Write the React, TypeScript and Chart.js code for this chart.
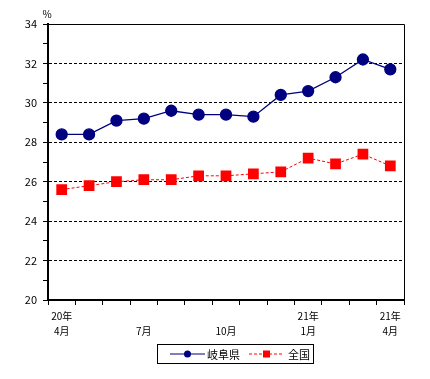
import React, { useEffect, useRef } from "react";
import { Chart, registerables } from "chart.js";

Chart.register(...registerables);

const categories = ["2008-04", "2008-05", "2008-06", "2008-07", "2008-08", "2008-09", "2008-10", "2008-11", "2008-12", "2009-01", "2009-02", "2009-03", "2009-04"];
const xTickLabels: (string | string[])[] = [["20年", "4月"], "", "", ["", "7月"], "", "", ["", "10月"], "", "", ["21年", "1月"], "", "", ["21年", "4月"]];
const gifuValues = [28.4, 28.4, 29.1, 29.2, 29.6, 29.4, 29.4, 29.3, 30.4, 30.6, 31.3, 32.2, 31.7];
const zenkokuValues = [25.6, 25.8, 26.0, 26.1, 26.1, 26.3, 26.3, 26.4, 26.5, 27.2, 26.9, 27.4, 26.8];
const seriesNames = ["岐阜県", "全国"];
const yUnit = "%";

const FONT = "'Noto Sans CJK JP', 'DejaVu Sans', sans-serif";

const framePlugin = {
  id: "frame",
  afterDraw(chart: any) {
    const { ctx, chartArea } = chart;
    const { left, right, top, bottom } = chartArea;
    ctx.save();
    ctx.strokeStyle = "#000";
    ctx.lineWidth = 1;
    ctx.setLineDash([]);
    ctx.beginPath();
    ctx.moveTo(left, Math.round(top) + 0.5);
    ctx.lineTo(Math.round(right) + 0.5, Math.round(top) + 0.5);
    ctx.lineTo(Math.round(right) + 0.5, bottom);
    ctx.stroke();
    // unit label
    ctx.fillStyle = "#000";
    ctx.font = `10px ${FONT}`;
    ctx.textAlign = "center";
    ctx.textBaseline = "middle";
    ctx.fillText(yUnit, left - 1, top - 10);

    // legend
    const ds = chart.data.datasets;
    const bx = 157.5, by = 344.5, bw = 156, bh = 19;
    ctx.strokeStyle = "#000";
    ctx.lineWidth = 1;
    ctx.strokeRect(bx, by, bw, bh);
    const cy = by + bh / 2;
    ctx.font = `11px ${FONT}`;
    ctx.textAlign = "left";
    // series 1
    ctx.strokeStyle = ds[0].borderColor;
    ctx.lineWidth = 1.2;
    ctx.beginPath();
    ctx.moveTo(170, cy);
    ctx.lineTo(205, cy);
    ctx.stroke();
    ctx.fillStyle = ds[0].pointBackgroundColor;
    ctx.beginPath();
    ctx.arc(187.5, cy, 3.5, 0, Math.PI * 2);
    ctx.fill();
    ctx.fillStyle = "#000";
    ctx.fillText(ds[0].label, 207, cy + 1);
    // series 2
    ctx.strokeStyle = ds[1].borderColor;
    ctx.lineWidth = 1;
    ctx.setLineDash([3, 2]);
    ctx.beginPath();
    ctx.moveTo(249, cy);
    ctx.lineTo(284, cy);
    ctx.stroke();
    ctx.setLineDash([]);
    ctx.fillStyle = ds[1].pointBackgroundColor;
    ctx.fillRect(263, cy - 3.5, 7, 7);
    ctx.fillStyle = "#000";
    ctx.fillText(ds[1].label, 288, cy + 1);
    ctx.restore();
  },
};

export default function App() {
  const ref = useRef<HTMLCanvasElement | null>(null);
  useEffect(() => {
    if (!ref.current) return;
    const chart = new Chart(ref.current, {
      type: "line",
      data: {
        labels: categories,
        datasets: [
          {
            label: seriesNames[0],
            data: gifuValues,
            borderColor: "#000080",
            backgroundColor: "#000080",
            pointBackgroundColor: "#000080",
            pointBorderColor: "#000080",
            borderWidth: 1.3,
            pointRadius: 5.5,
            pointStyle: "circle",
            tension: 0,
          },
          {
            label: seriesNames[1],
            data: zenkokuValues,
            borderColor: "#FF0000",
            backgroundColor: "#FF0000",
            pointBackgroundColor: "#FF0000",
            pointBorderColor: "#FF0000",
            borderWidth: 1,
            borderDash: [3, 2],
            pointRadius: 7.6,
            pointBorderWidth: 0,
            pointStyle: "rect",
            tension: 0,
          },
        ],
      },
      options: {
        animation: false,
        responsive: true,
        maintainAspectRatio: false,
        layout: { padding: { left: 0, right: 26, top: 24, bottom: 39 } },
        plugins: { legend: { display: false }, tooltip: { enabled: false } },
        scales: {
          x: {
            type: "category",
            offset: true,
            grid: {
              offset: true,
              color: "rgba(0,0,0,0)",
              tickColor: "#000",
              tickLength: 5,
              drawOnChartArea: false,
            },
            border: { color: "#000", width: 2 },
            ticks: {
              autoSkip: false,
              maxRotation: 0,
              padding: 4,
              color: "#000",
              font: { family: FONT, size: 10, lineHeight: 1.5 },
              callback: (_v: any, i: number) => xTickLabels[i],
            },
            afterFit: (scale: any) => {
              scale.height = 40;
            },
          },
          y: {
            min: 20,
            max: 34,
            grid: {
              color: (c: any) => {
                const v = c.tick ? c.tick.value : 0;
                return v % 2 === 0 && v !== 20 && v !== 34 ? "#000" : "rgba(0,0,0,0)";
              },
              tickColor: "#000",
              tickLength: 5,
              tickBorderDash: [],
            },
            border: { color: "#000", width: 2, dash: [3, 2] },
            ticks: {
              stepSize: 1,
              padding: 6,
              color: "#000",
              font: { family: FONT, size: 11 },
              callback: (v: any) => (Number(v) % 2 === 0 ? String(v) : ""),
            },
            afterFit: (scale: any) => {
              scale.width = 48;
            },
          },
        },
      },
      plugins: [framePlugin],
    } as any);
    return () => chart.destroy();
  }, []);
  return (
    <div style={{ position: "fixed", left: 0, top: 0, width: 430, height: 379, background: "#fff" }}>
      <canvas ref={ref} />
    </div>
  );
}
